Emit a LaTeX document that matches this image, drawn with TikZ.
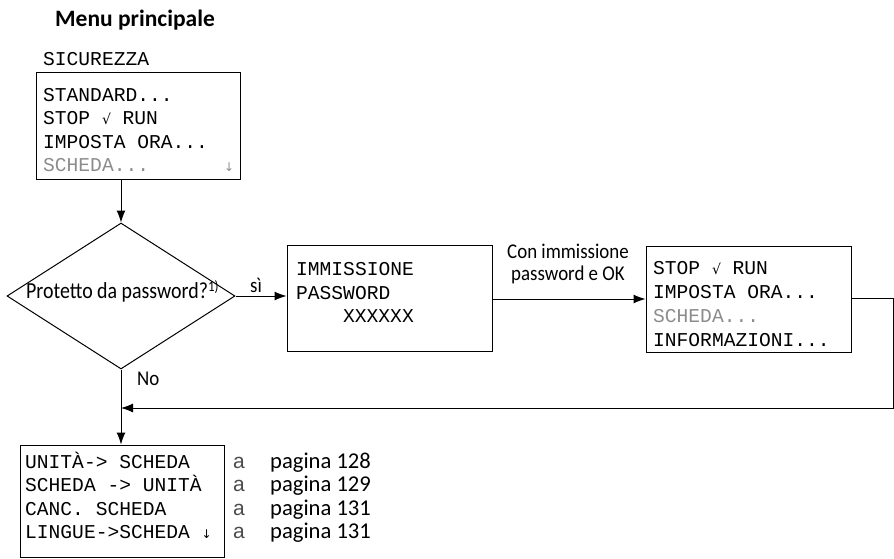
\documentclass[tikz,border=0pt]{standalone}
\usepackage{fontspec}
\setmainfont{Carlito}
\newfontfamily\narrowfont{Carlito}[FakeStretch=0.9]
\newfontfamily\condfont{Carlito}[FakeStretch=0.865]
\newfontfamily\lcdfont{Liberation Mono}
\newfontfamily\symfont{DejaVu Sans}
\newfontfamily\markfont{Liberation Sans}
\usetikzlibrary{arrows.meta,shapes.geometric}
\begin{document}
\begin{tikzpicture}[x=1pt,y=-1pt,
  box/.style={draw,line width=1pt,inner sep=0pt,rectangle},
  lcd/.style={anchor=base west,inner sep=0pt,font=\lcdfont\fontsize{19.6}{20}\selectfont},
  lcdgray/.style={lcd,text=black!45},
  lbl/.style={inner sep=0pt,font=\narrowfont\fontsize{21}{22}\selectfont},
  conn/.style={line width=1pt},
  arr/.style={conn,-{Latex[length=12pt,width=9pt]}},
  pg/.style={anchor=base west,inner sep=0pt,font=\fontsize{22.6}{23}\selectfont},
  mk/.style={anchor=base west,inner sep=0pt,text=black!70,font=\markfont\fontsize{21}{22}\selectfont}]
\useasboundingbox (0,0) rectangle (894,559);

% title
\node[inner sep=0pt,anchor=base west,font=\bfseries\fontsize{23.5}{24}\selectfont] (title) at (55,26.5) {Menu principale};

% box 1
\node[lcd] (sic) at (43,66) {SICUREZZA};
\node[box,minimum width=204pt,minimum height=106pt] (b1) at (138,126) {};
\node[lcd] (b1a) at (43,101.5) {STANDARD...};
\node[lcd] (b1b) at (43,124.8) {STOP {\symfont\fontsize{14}{14}\selectfont √} RUN};
\node[lcd] (b1c) at (43,148.1) {IMPOSTA ORA...};
\node[lcdgray] (b1d) at (43,171.4) {SCHEDA...};
\node[lcdgray] (b1e) at (224,171.4) {{\symfont\fontsize{12}{12}\selectfont ↓}};

% diamond
\node[draw,diamond,line width=1pt,inner sep=0pt,minimum width=228pt,minimum height=146pt] (d) at (121,296) {};
\node[inner sep=0pt,anchor=base west,font=\condfont\fontsize{23}{24}\selectfont] (dt) at (26,298) {Protetto da password?{\fontsize{15}{15}\selectfont\raisebox{7pt}{1)}}};

% box 2
\node[box,minimum width=205pt,minimum height=106pt] (b2) at (389.5,298) {};
\node[lcd] (b2a) at (296,275) {IMMISSIONE};
\node[lcd] (b2b) at (296,299) {PASSWORD};
\node[lcd] (b2c) at (343,322) {XXXXXX};

% box 3
\node[box,minimum width=205pt,minimum height=106pt] (b3) at (748.5,299) {};
\node[lcd] (b3a) at (653,274) {STOP {\symfont\fontsize{14}{14}\selectfont √} RUN};
\node[lcd] (b3b) at (653,298) {IMPOSTA ORA...};
\node[lcdgray] (b3c) at (653,322) {SCHEDA...};
\node[lcd] (b3d) at (653,346) {INFORMAZIONI...};

% box 4
\node[box,minimum width=204pt,minimum height=112pt] (b4) at (122,501) {};
\node[lcd] (b4a) at (25,468) {UNITÀ-> SCHEDA};
\node[lcd] (b4b) at (25,491.5) {SCHEDA -> UNITÀ};
\node[lcd] (b4c) at (25,515) {CANC. SCHEDA};
\node[lcd] (b4d) at (25,538.5) {LINGUE->SCHEDA {\symfont\fontsize{12}{12}\selectfont ↓}};

% page refs
\node[mk] (m1) at (233,468) {a};
\node[mk] (m2) at (233,491.5) {a};
\node[mk] (m3) at (233,515) {a};
\node[mk] (m4) at (233,538.5) {a};
\node[pg] (p1) at (270,468) {pagina 128};
\node[pg] (p2) at (270,491.5) {pagina 129};
\node[pg] (p3) at (270,515) {pagina 131};
\node[pg] (p4) at (270,538.5) {pagina 131};

% labels
\node[lbl,anchor=base west] (si) at (250,292) {sì};
\node[lbl,anchor=base west] (no) at (137,385) {No};
\node[lbl,anchor=base] (con1) at (568,258) {Con immissione};
\node[lbl,anchor=base] (con2) at (568,280) {password e OK};

% connectors
\coordinate (r1) at (893,298);
\coordinate (r2) at (893,408);
\coordinate (m) at (121,408);
\draw[arr] (b1.south -| d.north) -- (d.north);
\draw[arr] (d.east) -- (d.east -| b2.west);
\draw[arr] (b2.east |- b3.west) -- (b3.west);
\draw[arr] (b3.east |- r1) -- (r1) -- (r2) -- (m);
\draw[arr] (d.south) -- (d.south |- b4.north);
\end{tikzpicture}
\end{document}
